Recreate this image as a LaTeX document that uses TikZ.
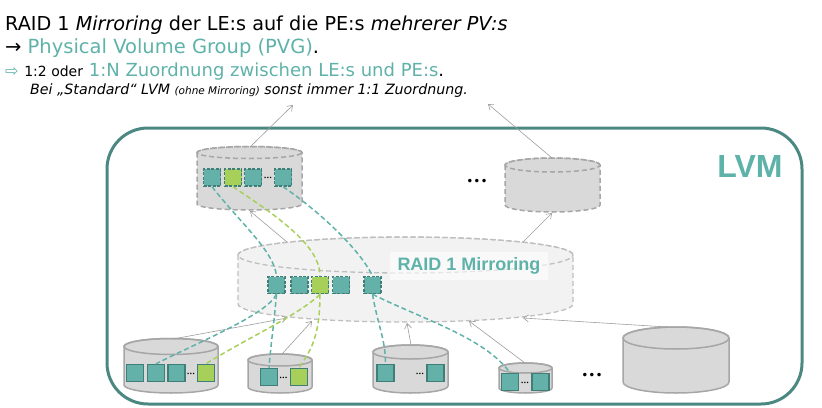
\documentclass[tikz,border=0pt]{standalone}
\usepackage{xcolor}
\usepackage{fontspec}
\usepackage{tikz}
\usetikzlibrary{positioning,arrows.meta}
\setmainfont{DejaVu Sans}
\newfontfamily\lvmfont{Liberation Sans}

\definecolor{lvmteal}{HTML}{5FB2A9}
\definecolor{lvmframe}{HTML}{4C8882}
\definecolor{pefill}{HTML}{63B1A9}
\definecolor{peedge}{HTML}{3F7F78}
\definecolor{pegreen}{HTML}{A7D05A}
\definecolor{drumfill}{HTML}{D9D9D9}
\definecolor{drumedge}{HTML}{A6A6A6}
\definecolor{raidfill}{HTML}{F2F2F2}
\definecolor{raidedge}{HTML}{BFBFBF}
\definecolor{feedgray}{HTML}{9E9E9E}

% cx, rx, ry, top centre y, bottom centre y, style
\newcommand{\drum}[6]{%
    \path[#6] (#1-#2,#4) -- (#1-#2,#5)
        arc[start angle=180,end angle=360,x radius=#2pt,y radius=#3pt]
        -- (#1+#2,#4)
        arc[start angle=0,end angle=180,x radius=#2pt,y radius=#3pt] -- cycle;
    \path[#6,fill=none] (#1,#4) ellipse[x radius=#2pt,y radius=#3pt];
}

\tikzset{
    lvdrum/.style={fill=drumfill,draw=drumedge,line width=1.5pt,dash pattern=on 5pt off 3pt},
    pvdrum/.style={fill=drumfill,draw=drumedge,line width=1.5pt},
    raiddrum/.style={fill=raidfill,draw=raidedge,line width=1.3pt,dash pattern=on 5pt off 3pt},
    pe/.style={draw=peedge,fill=pefill,line width=1.5pt,minimum size=17pt,inner sep=0pt},
    pegr/.style={pe,fill=pegreen},
    le/.style={pe,dash pattern=on 3pt off 1.5pt},
    legr/.style={le,fill=pegreen},
    feed/.style={draw=feedgray,line width=0.6pt,-{Straight Barb[length=5pt,width=7pt]}},
    maptl/.style={draw=lvmteal,line width=1.5pt,dash pattern=on 5pt off 3pt},
    mapgr/.style={maptl,draw=pegreen},
    more/.style={inner sep=0pt,font=\fontsize{12}{12}\selectfont},
    less/.style={inner sep=0pt,font=\bfseries\fontsize{4.2}{4.2}\selectfont},
    line/.style={anchor=base west,inner sep=0pt}
}

\begin{document}
\begin{tikzpicture}[x=1pt,y=-1pt]
    \useasboundingbox (0,0) rectangle (822,407);

    \node[line,font=\fontsize{19.2}{24}\selectfont] (title) at (5,30)
    {RAID 1 \textit{Mirroring} der LE:s auf die PE:s \textit{mehrerer PV:s}};
    \node[line,font=\fontsize{19.5}{22}\selectfont] (pvg) at (5,53)
    {→ \textcolor{lvmteal}{Physical Volume Group (PVG)}.};
    \node[line,font=\fontsize{18}{20}\selectfont] (ratio) at (5,76)
    {\textcolor{lvmteal}{\fontsize{16}{16}\selectfont ⇨} {\fontsize{14}{16}\selectfont 1:2 oder}
    \textcolor{lvmteal}{1:N Zuordnung zwischen LE:s und PE:s}.};
    \node[line,font=\itshape\fontsize{14.2}{16}\selectfont] (note) at (30,94)
    {Bei „Standard“ LVM {\fontsize{10.5}{12}\selectfont (ohne Mirroring)} sonst immer 1:1 Zuordnung.};

    \draw[lvmframe,line width=3pt,rounded corners=41pt] (107,128) rectangle (802,404);
    \node[text=lvmteal,font=\lvmfont\bfseries\fontsize{32}{32}\selectfont] (lvmlabel) at (750,166.5) {LVM};

    \coordinate (lvatop) at (250,147);
    \coordinate (lvaup) at (293,105);
    \coordinate (lvbtop) at (552,158);
    \coordinate (lvbup) at (488,104);
    \coordinate (lvabot) at (250,211);
    \coordinate (lvbbot) at (552,213);
    \coordinate (raidt1) at (287,242);
    \coordinate (raidt2) at (523,242);
    \coordinate (raidb1) at (287,318);
    \coordinate (raidb2) at (312,321);
    \coordinate (raidb3) at (407,323);
    \coordinate (raidb4) at (469,321);
    \coordinate (raidb5) at (523,318);
    \coordinate (pv1top) at (173,339);
    \coordinate (pv2top) at (282,354);
    \coordinate (pv3top) at (411,345);
    \coordinate (pv4top) at (525,363);
    \coordinate (pv5top) at (667,327);

    \drum{249.5}{52.5}{6}{152.5}{204}{lvdrum}
    \drum{552.5}{47.5}{7}{165}{205}{lvdrum}
    \drum{405.5}{167.5}{18}{255}{304}{raiddrum}
    \drum{171}{47}{8}{346.5}{385}{pvdrum}
    \drum{280}{32}{6}{360}{387}{pvdrum}
    \drum{410.5}{37.5}{7}{352}{386}{pvdrum}
    \drum{525.5}{26.5}{5}{368}{388}{pvdrum}
    \drum{676}{53}{11}{338}{382}{pvdrum}

    \draw[feed] (lvatop) -- (lvaup);
    \draw[feed] (lvbtop) -- (lvbup);
    \draw[feed] (raidt1) -- (lvabot);
    \draw[feed] (raidt2) -- (lvbbot);
    \draw[feed] (pv1top) -- (raidb1);
    \draw[feed] (pv2top) -- (raidb2);
    \draw[feed] (pv3top) -- (raidb3);
    \draw[feed] (pv4top) -- (raidb4);
    \draw[feed] (pv5top) -- (raidb5);

    \node[fill=white,fill opacity=0.6,text opacity=1,minimum width=158pt,minimum height=28pt,
    text=lvmteal,font=\lvmfont\bfseries\fontsize{18}{18}\selectfont] (raidlabel) at (469,266) {RAID 1 Mirroring};

    \node[le] (t1) at (212,177.5) {};
    \node[legr] (t2) at (233,177.5) {};
    \node[le] (t3) at (253,177.5) {};
    \node[less] (tdots) at (268,178) {•••};
    \node[le] (t4) at (283,177.5) {};

    \node[le] (m1) at (276.5,285) {};
    \node[le] (m2) at (299.5,285) {};
    \node[legr] (m3) at (320,285) {};
    \node[le] (m4) at (341,285) {};
    \node[le] (m5) at (372.5,285) {};

    \node[pe] (p1a) at (135,373) {};
    \node[pe] (p1b) at (156,373) {};
    \node[pe] (p1c) at (176.5,373) {};
    \node[less] (p1dots) at (191,374) {•••};
    \node[pegr] (p1g) at (206,373) {};

    \node[pe] (p2a) at (269,377) {};
    \node[less] (p2dots) at (283.5,378) {•••};
    \node[pegr] (p2g) at (299,377) {};

    \node[pe] (p3a) at (385.5,373) {};
    \node[less] (p3dots) at (420,374) {•••};
    \node[pe] (p3b) at (435.5,373) {};

    \node[pe] (p4a) at (510,382) {};
    \node[less] (p4dots) at (525,383) {•••};
    \node[pe] (p4b) at (540.5,382) {};

    \node[more] (lvdots) at (477,182) {•••};
    \node[more] (pvdots) at (592,376) {•••};

    \draw[maptl] (t1.south) .. controls +(30,38) and +(-3,-25) .. (m1.north);
    \draw[mapgr] (t2.south) .. controls +(45,30) and +(0,-30) .. (m3.north);
    \draw[maptl] (t4.south) .. controls +(30,20) and +(-15,-30) .. (m5.north);

    \draw[maptl] (m1.south) .. controls +(-10,20) and +(50,-25) .. (p1b.north);
    \draw[maptl] (m1.south) .. controls +(-2,25) and +(2,-25) .. (p2a.north);
    \draw[mapgr] (m3.south) .. controls +(-20,20) and +(40,-25) .. (p1g.north);
    \draw[mapgr] (m3.south) .. controls +(0,45) and +(10,-15) .. (p2g.north);
    \draw[maptl] (m5.south) .. controls +(5,30) and +(0,-25) .. (p3a.north);
    \draw[maptl] (m5.south) .. controls +(50,25) and +(-25,-35) .. (p4a.north);
\end{tikzpicture}
\end{document}
